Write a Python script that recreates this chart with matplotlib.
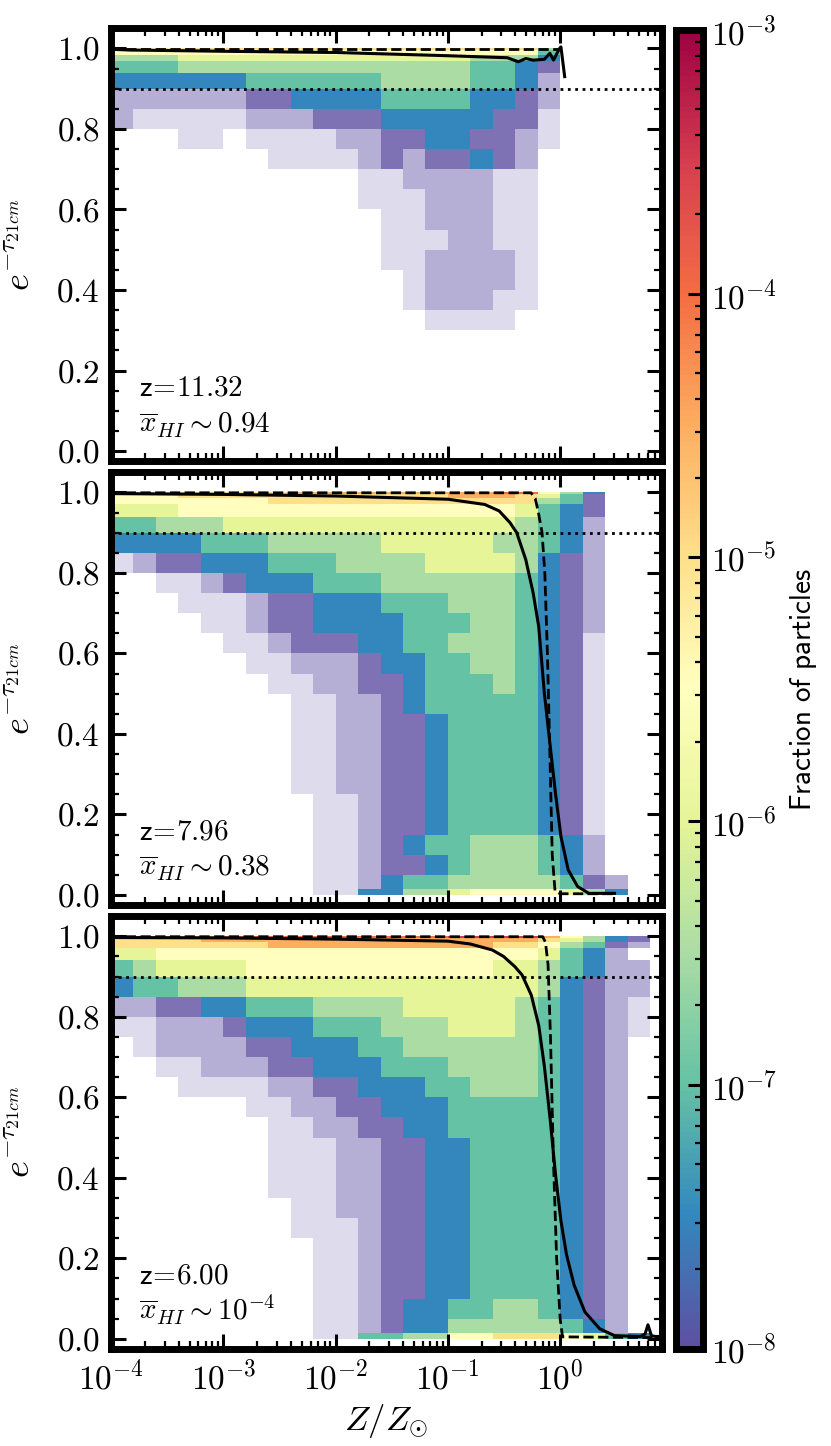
import numpy as np
import matplotlib
matplotlib.use("Agg")
import matplotlib.pyplot as plt
from matplotlib.colors import LogNorm
from matplotlib.ticker import MultipleLocator, LogLocator, NullFormatter

plt.rcParams['font.family'] = 'cmr10'
plt.rcParams['mathtext.fontset'] = 'cm'
plt.rcParams['axes.formatter.use_mathtext'] = True

# ---- histogram ----
# columns: log10(Z/Zsun) bins of 0.2 dex from -4 to 1
# rows (top -> bottom): e^-tau bins given by tau_edges (reversed)
# '0'..'9' -> fraction 10**(-8 + 0.5*d), '-' sparse, ':' very sparse, '.' empty
logz_edges = np.arange(-4.0, 1.01, 0.2)
tau_edges = [0.0, 0.015, 0.05, 0.10, 0.15, 0.20, 0.25, 0.30, 0.35, 0.40, 0.45,
             0.50, 0.55, 0.60, 0.65, 0.70, 0.75, 0.80, 0.85, 0.90, 0.94, 0.97,
             0.985, 0.995, 1.0]

hist_z11 = [
    "55666 66666 66666 66663 .....",
    "55555 55555 55555 55552 .....",
    "33344 44444 44444 43331 .....",
    "22233 33333 33333 32210 .....",
    "11111 12222 22333 3221- .....",
    "----- -0011 11222 2110- .....",
    "-:::: :---0 00111 1100: .....",
    "...:: .:::: --001 100-: .....",
    "..... ..::: :-0-0 010-. .....",
    "..... ..... .::-- --::. .....",
    "..... ..... .:::- --::. .....",
    "..... ..... ..::- --::. .....",
    "..... ..... ..::: --::. .....",
    "..... ..... ..::- ---:. .....",
    "..... ..... ...:- ---:. .....",
    "..... ..... ...:- --::. .....",
    "..... ..... ....: :::.. .....",
    "..... ..... ..... ..... .....",
    "..... ..... ..... ..... .....",
    "..... ..... ..... ..... .....",
    "..... ..... ..... ..... .....",
    "..... ..... ..... ..... .....",
    "..... ..... ..... ..... .....",
    "..... ..... ..... ..... .....",
]

hist_z8 = [
    "66666 66677 77777 77885 31...",
    "55566 66666 66666 77764 20...",
    "55555 55666 66666 66663 20...",
    "44455 55555 55555 55542 10...",
    "22333 44444 44444 44432 1-...",
    "11112 22333 33444 44332 1-...",
    ":-001 11222 33334 44431 0-...",
    "..::- 01112 22333 33321 0-...",
    "...:: :-001 11222 33321 0-...",
    "....: :-001 11122 23321 0-...",
    "..... ::-00 01122 33321 0:...",
    "..... .::-- -0112 23321 0:...",
    "..... ..::- -0012 22321 0:...",
    "..... ...:: --012 22221 0:...",
    "..... ...:: --001 22221 0:...",
    "..... ...:: --001 22221 0:...",
    "..... ...:: --001 22221 0:...",
    "..... ...:: --001 22221 0:...",
    "..... ....: :-001 22221 0:...",
    "..... ....: :-001 22221 0:...",
    "..... ....: :-012 23332 1-...",
    "..... ....: :-001 23332 1-...",
    "..... ....: :-122 33333 20-..",
    "..... ....: :1133 45555 431..",
]

hist_z6 = [
    "77777 88888 88888 99997 5310.",
    "66667 77777 77777 77776 4310.",
    "66666 66777 77777 77665 320-.",
    "44555 55555 55555 55554 21-..",
    "23444 45555 55555 55443 21--.",
    "12233 34444 44444 44443 10--.",
    "--001 12223 33344 44432 10-:.",
    "::--- 01112 22333 44432 10-:.",
    ".:--- -0011 12233 33332 10-..",
    "..::- --001 11222 33332 10-..",
    "...:: ::--0 01112 23332 10-..",
    "..... .::-- 00111 22222 10-..",
    "..... ..::- -0011 22222 10-..",
    "..... ..::: --001 12222 10-..",
    "..... ..::: --001 12222 10-..",
    "..... ..::: --001 12222 10-..",
    "..... ...:: --001 12222 10-..",
    "..... ...:: :-001 12222 10-..",
    "..... ....: :-001 12222 10-..",
    "..... ....: :-001 12222 10-..",
    "..... ....: :-001 12222 10-..",
    "..... ....: :-011 22332 10-..",
    "..... ....: :-011 33333 21-..",
    "..... ....: :2233 55666 5421.",
]

# ---- curves ----
solid_x_z11 = [1e-4, 1.5e-4, 3e-4, 1e-3, 1e-2, 0.1, 0.338, 0.424, 0.494, 0.575,
               0.723, 0.81, 0.873, 0.977, 1.016, 1.097]
solid_y_z11 = [0.998, 0.996, 0.995, 0.993, 0.990, 0.982, 0.977, 0.967, 0.975, 0.971,
               0.973, 0.988, 0.971, 0.998, 1.004, 0.930]
dash_x_z11 = [1e-4, 1.0]
dash_y_z11 = [0.999, 0.999]

solid_x_z8 = [1e-4, 1e-3, 1e-2, 0.1, 0.213, 0.286, 0.357, 0.41, 0.494, 0.575, 0.644,
              0.723, 0.81, 0.908, 1.016, 1.18, 1.43, 1.80, 3.05]
solid_y_z8 = [0.997, 0.995, 0.991, 0.983, 0.970, 0.954, 0.925, 0.900, 0.833, 0.750,
              0.667, 0.502, 0.377, 0.253, 0.145, 0.062, 0.021, 0.004, 0.004]
dash_x_z8 = [1e-4, 0.55, 0.60, 0.64, 0.69, 0.73, 0.77, 0.81, 0.85, 0.90, 1.0, 3.0]
dash_y_z8 = [0.999, 0.999, 0.985, 0.95, 0.90, 0.80, 0.60, 0.35, 0.10, 0.01, 0.003, 0.003]

solid_x_z6 = [1e-4, 1e-3, 1e-2, 0.1, 0.158, 0.249, 0.313, 0.394, 0.458, 0.553, 0.644,
              0.723, 0.81, 0.908, 1.016, 1.14, 1.33, 1.66, 2.25, 3.05, 5.2, 5.7, 6.05,
              6.5, 7.05, 8.0]
solid_y_z6 = [0.997, 0.996, 0.993, 0.988, 0.981, 0.966, 0.950, 0.925, 0.904, 0.854,
              0.779, 0.678, 0.552, 0.410, 0.293, 0.209, 0.134, 0.067, 0.025, 0.008,
              0.006, 0.012, 0.035, 0.008, 0.006, 0.006]
dash_x_z6 = [1e-4, 0.70, 0.74, 0.78, 0.82, 0.87, 0.93, 1.0, 1.05, 8.0]
dash_y_z6 = [0.999, 0.999, 0.985, 0.93, 0.75, 0.45, 0.20, 0.05, 0.005, 0.003]

redshifts = ['11.32', '7.96', '6.00']
xhi_labels = ['0.94', '0.38', '10^{-4}']
tau_cut = 0.9

panels = [
    (hist_z11, solid_x_z11, solid_y_z11, dash_x_z11, dash_y_z11),
    (hist_z8, solid_x_z8, solid_y_z8, dash_x_z8, dash_y_z8),
    (hist_z6, solid_x_z6, solid_y_z6, dash_x_z6, dash_y_z6),
]

cmap = plt.get_cmap('Spectral_r')
norm = LogNorm(vmin=1e-8, vmax=1e-3)

fig = plt.figure(figsize=(8.31, 14.46), dpi=100)
bottoms = [0.6814, 0.3744, 0.0674]

X = 10 ** logz_edges
Y = np.array(tau_edges)

for i, (rows, sx, sy, dx, dy) in enumerate(panels):
    ax = fig.add_axes([0.1336, bottoms[i], 0.6625, 0.299])
    grid = np.array([list(r.replace(' ', '')) for r in rows[::-1]])
    assert grid.shape == (len(tau_edges) - 1, len(logz_edges) - 1)

    vals = np.full(grid.shape, np.nan)
    for d in '123456789':
        vals[grid == d] = 10 ** (-8 + 0.5 * int(d))
    ax.pcolormesh(X, Y, np.ma.masked_invalid(vals), cmap=cmap, norm=norm,
                  shading='flat', edgecolors='none')
    # lowest bins are speckled with empty pixels -> lighter
    for ch, a in (('0', 0.8), ('-', 0.45), (':', 0.2)):
        m = np.ma.masked_where(grid != ch, np.full(grid.shape, 1e-8))
        ax.pcolormesh(X, Y, m, cmap=cmap, norm=norm, alpha=a,
                      shading='flat', edgecolors='none')

    ax.plot(sx, sy, color='k', lw=2.2)
    ax.plot(dx, dy, color='k', lw=2.0, ls='--')
    ax.axhline(tau_cut, color='k', lw=2.0, ls=':')

    ax.set_xscale('log')
    ax.set_xlim(1e-4, 8)
    ax.set_ylim(-0.024, 1.05)
    ax.yaxis.set_major_locator(MultipleLocator(0.2))
    ax.yaxis.set_minor_locator(MultipleLocator(0.05))
    ax.xaxis.set_major_locator(LogLocator(10, numticks=12))
    ax.xaxis.set_minor_locator(LogLocator(10, subs=np.arange(2, 10), numticks=12))
    ax.xaxis.set_minor_formatter(NullFormatter())
    ax.tick_params(which='both', direction='in', top=True, right=True)
    ax.tick_params(which='major', length=11, width=2.2, labelsize=24, pad=8)
    ax.tick_params(which='minor', length=6, width=1.6)
    for s in ax.spines.values():
        s.set_linewidth(5)

    if i < 2:
        ax.tick_params(labelbottom=False)
    else:
        ax.set_xlabel(r'$Z/Z_{\odot}$', fontsize=25, labelpad=5)

    ax.set_ylabel(r'$e^{-\tau_{21cm}}$', fontsize=26)
    ax.yaxis.set_label_coords(-0.135, 0.5)

    ax.text(0.05, 0.15, r'$\mathsf{z}\!=\!\mathsf{' + redshifts[i] + '}$',
            transform=ax.transAxes, fontsize=21)
    ax.text(0.05, 0.065, r'$\overline{x}_{HI} \sim ' + xhi_labels[i] + '$',
            transform=ax.transAxes, fontsize=21)

cax = fig.add_axes([0.8129, 0.0674, 0.0325, 0.9118])
sm = matplotlib.cm.ScalarMappable(norm=norm, cmap=cmap)
cb = fig.colorbar(sm, cax=cax)
cb.outline.set_linewidth(5)
cax.yaxis.set_minor_locator(LogLocator(10, subs=np.arange(2, 10), numticks=12))
cax.tick_params(which='both', direction='in', labelsize=24, pad=6)
cax.tick_params(which='major', length=11, width=2.2)
cax.tick_params(which='minor', length=6, width=1.6)
cb.set_label(r'$\mathsf{Fraction\ of\ particles}$', fontsize=21, labelpad=8)

fig.savefig('out.png', dpi=100)
